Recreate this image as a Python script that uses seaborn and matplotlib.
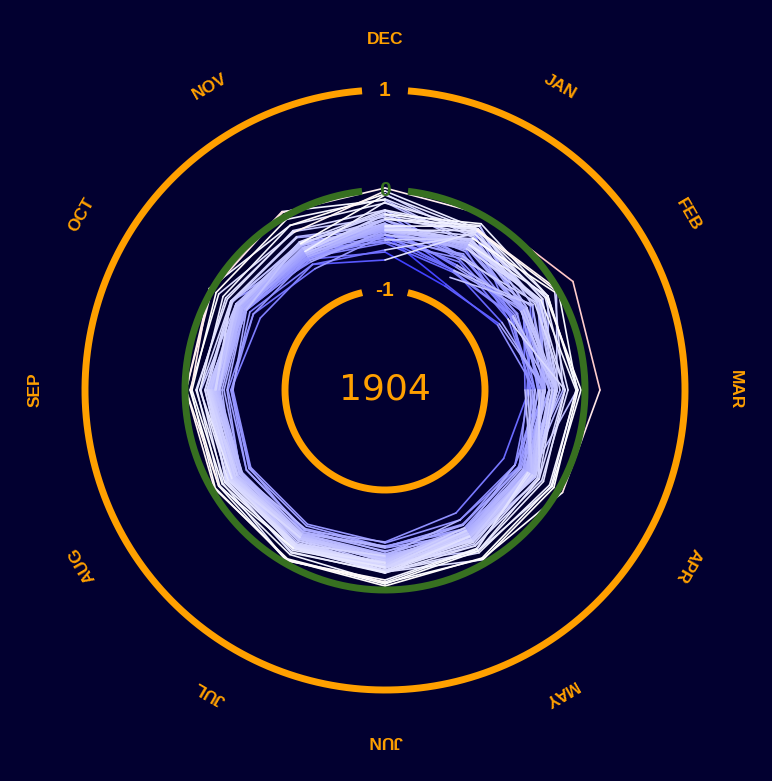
import numpy as np
import pandas as pd
import matplotlib
matplotlib.use('Agg')
import matplotlib.pyplot as plt
import seaborn as sns

# monthly temperature anomalies (deg C), one list per month, years 1850..1904
years = list(range(1850, 1905))
jan = [-0.70, -0.22, -0.20, -0.16, -0.30, -0.28, -0.26, -0.15, -0.62, -0.28,
       -0.43, -0.62, -0.78, -0.17, -0.58, -0.20, -0.15, -0.45, -0.56, -0.32,
       -0.34, -0.52, -0.56, -0.30, -0.11, -0.38, -0.36, -0.48, 0.02, -0.20,
       -0.27, -0.35, -0.08, -0.36, -0.33, -0.62, -0.46, -0.63, -0.46, -0.15,
       -0.40, -0.45, -0.32, -0.80, -0.37, -0.50, -0.14, -0.14, -0.18, -0.10,
       -0.30, -0.24, -0.16, -0.25, -0.64]
feb = [-0.29, -0.38, -0.24, -0.36, -0.24, -0.43, -0.38, -0.36, -0.65, -0.22,
       -0.55, -0.30, -0.70, -0.24, -0.42, -0.55, -0.18, -0.32, -0.37, -0.12,
       -0.40, -0.58, -0.37, -0.42, -0.30, -0.58, -0.42, -0.25, 0.17, -0.15,
       -0.22, -0.27, -0.12, -0.40, -0.22, -0.39, -0.50, -0.52, -0.47, 0.00,
       -0.48, -0.52, -0.21, -0.68, -0.20, -0.53, -0.18, -0.12, -0.40, -0.42,
       -0.20, -0.14, -0.02, -0.04, -0.53]
mar = [-0.58, -0.40, -0.40, -0.28, -0.28, -0.29, -0.47, -0.56, -0.40, -0.20,
       -0.54, -0.40, -0.50, -0.32, -0.45, -0.50, -0.44, -0.57, -0.30, -0.36,
       -0.40, -0.20, -0.33, -0.32, -0.36, -0.52, -0.47, -0.30, 0.15, -0.17,
       -0.25, -0.20, -0.08, -0.28, -0.42, -0.36, -0.42, -0.40, -0.50, -0.08,
       -0.42, -0.28, -0.40, -0.40, -0.30, -0.35, -0.28, -0.07, -0.60, -0.46,
       -0.09, -0.04, -0.28, -0.22, -0.55]
apr = [-0.45, -0.50, -0.33, -0.26, -0.36, -0.27, -0.37, -0.63, -0.31, -0.33,
       -0.35, -0.46, -0.45, -0.35, -0.50, -0.36, -0.31, -0.30, -0.34, -0.29,
       -0.30, -0.22, -0.24, -0.33, -0.39, -0.40, -0.40, -0.22, 0.05, -0.19,
       -0.33, -0.17, -0.32, -0.28, -0.44, -0.43, -0.28, -0.38, -0.35, -0.10,
       -0.35, -0.30, -0.35, -0.41, -0.40, -0.28, -0.35, -0.05, -0.31, -0.22,
       -0.08, -0.07, -0.27, -0.38, -0.50]
may = [-0.41, -0.38, -0.17, -0.31, -0.26, -0.31, -0.40, -0.58, -0.37, -0.34,
       -0.33, -0.50, -0.44, -0.37, -0.44, -0.36, -0.37, -0.34, -0.27, -0.31,
       -0.27, -0.28, -0.20, -0.32, -0.40, -0.37, -0.36, -0.14, -0.05, -0.20,
       -0.30, -0.14, -0.28, -0.24, -0.45, -0.38, -0.26, -0.34, -0.31, -0.12,
       -0.30, -0.22, -0.32, -0.35, -0.34, -0.30, -0.16, -0.04, -0.31, -0.25,
       -0.06, -0.14, -0.33, -0.40, -0.50]
jun = [-0.25, -0.22, -0.10, -0.17, -0.20, -0.19, -0.30, -0.48, -0.28, -0.25,
       -0.32, -0.34, -0.43, -0.36, -0.38, -0.30, -0.23, -0.25, -0.22, -0.30,
       -0.22, -0.24, -0.17, -0.23, -0.35, -0.32, -0.33, -0.06, -0.07, -0.22,
       -0.35, -0.28, -0.33, -0.18, -0.43, -0.44, -0.34, -0.29, -0.27, -0.18,
       -0.31, -0.23, -0.39, -0.27, -0.42, -0.23, -0.08, -0.18, -0.24, -0.27,
       -0.04, -0.19, -0.32, -0.43, -0.47]
jul = [-0.20, -0.17, -0.03, -0.13, -0.19, -0.21, -0.32, -0.38, -0.30, -0.24,
       -0.30, -0.33, -0.43, -0.34, -0.39, -0.26, -0.26, -0.28, -0.21, -0.29,
       -0.20, -0.22, -0.19, -0.21, -0.33, -0.31, -0.28, -0.05, -0.10, -0.20,
       -0.30, -0.20, -0.30, -0.17, -0.40, -0.34, -0.22, -0.29, -0.22, -0.19,
       -0.32, -0.21, -0.36, -0.18, -0.36, -0.15, -0.03, -0.12, -0.22, -0.17,
       -0.04, -0.18, -0.28, -0.36, -0.45]
aug = [-0.22, -0.12, -0.13, -0.16, -0.22, -0.20, -0.25, -0.40, -0.29, -0.27,
       -0.26, -0.27, -0.43, -0.33, -0.40, -0.27, -0.30, -0.27, -0.26, -0.24,
       -0.25, -0.26, -0.17, -0.20, -0.32, -0.34, -0.27, -0.03, -0.09, -0.17,
       -0.22, -0.22, -0.20, -0.24, -0.33, -0.30, -0.29, -0.32, -0.19, -0.21,
       -0.35, -0.23, -0.35, -0.21, -0.34, -0.15, -0.08, -0.18, -0.23, -0.08,
       -0.04, -0.23, -0.32, -0.44, -0.45]
sep = [-0.27, -0.07, -0.16, -0.24, -0.24, -0.24, -0.35, -0.43, -0.34, -0.30,
       -0.37, -0.34, -0.47, -0.42, -0.46, -0.24, -0.32, -0.24, -0.26, -0.22,
       -0.27, -0.32, -0.20, -0.26, -0.34, -0.39, -0.32, -0.01, -0.12, -0.22,
       -0.27, -0.25, -0.22, -0.28, -0.33, -0.27, -0.24, -0.30, -0.15, -0.26,
       -0.34, -0.15, -0.31, -0.30, -0.32, -0.11, -0.05, -0.20, -0.23, -0.01,
       -0.06, -0.29, -0.30, -0.46, -0.48]
oct = [-0.36, -0.05, -0.28, -0.30, -0.30, -0.28, -0.35, -0.48, -0.32, -0.29,
       -0.36, -0.36, -0.44, -0.38, -0.56, -0.30, -0.35, -0.32, -0.32, -0.32,
       -0.34, -0.40, -0.24, -0.31, -0.40, -0.38, -0.36, 0.00, -0.16, -0.23,
       -0.39, -0.34, -0.32, -0.34, -0.40, -0.31, -0.32, -0.38, -0.13, -0.28,
       -0.28, -0.22, -0.22, -0.22, -0.32, -0.18, -0.08, -0.22, -0.36, 0.02,
       0.03, -0.31, -0.36, -0.48, -0.40]
nov = [-0.43, -0.03, -0.31, -0.37, -0.44, -0.46, -0.40, -0.60, -0.52, -0.41,
       -0.46, -0.46, -0.55, -0.36, -0.55, -0.30, -0.36, -0.38, -0.37, -0.33,
       -0.36, -0.46, -0.30, -0.33, -0.50, -0.48, -0.39, 0.05, -0.17, -0.24,
       -0.41, -0.40, -0.33, -0.42, -0.50, -0.29, -0.36, -0.35, -0.10, -0.37,
       -0.44, -0.40, -0.49, -0.23, -0.32, -0.16, -0.18, -0.32, -0.38, 0.06,
       -0.10, -0.32, -0.44, -0.47, -0.29]
dec = [-0.37, -0.09, -0.05, -0.41, -0.34, -0.38, -0.25, -0.45, -0.40, -0.48,
       -0.50, -0.45, -0.70, -0.35, -0.60, -0.29, -0.30, -0.39, -0.38, -0.34,
       -0.48, -0.38, -0.45, -0.36, -0.42, -0.45, -0.52, 0.02, -0.27, -0.40,
       -0.36, -0.24, -0.41, -0.30, -0.44, -0.20, -0.33, -0.44, -0.13, -0.30,
       -0.38, -0.12, -0.62, -0.35, -0.23, -0.20, -0.01, -0.21, -0.29, -0.10,
       -0.04, -0.40, -0.50, -0.53, -0.40]

month_labels = ['JAN', 'FEB', 'MAR', 'APR', 'MAY', 'JUN',
                'JUL', 'AUG', 'SEP', 'OCT', 'NOV', 'DEC']
ring_values = [-1, 0, 1]
current_year = 1904

bg = '#020030'
orange = '#ffa000'
green = '#377020'

months = [jan, feb, mar, apr, may, jun, jul, aug, sep, oct, nov, dec]
for m in months:
    assert len(m) == len(years)
vals = np.array(months).T  # (year, month)

# one row per point of every segment, so each segment gets its own colour
rows = []
seg = 0
prev = None
for yi, yr in enumerate(years):
    for mi in range(12):
        th1 = 2 * np.pi * (mi + 1) / 12
        v1 = vals[yi, mi]
        if prev is not None:
            th0, v0 = prev
            rows.append((seg, th0, v0 + 2, v1))
            rows.append((seg, th1, v1 + 2, v1))
            seg += 1
        prev = (th1 - 2 * np.pi if mi == 11 else th1, v1)
df = pd.DataFrame(rows, columns=['seg', 'theta', 'r', 'val'])

sns.set_style('dark')
fig = plt.figure(figsize=(7.72, 7.81), dpi=100, facecolor=bg)
ax = fig.add_axes([35 / 772, 41 / 781, 700 / 772, 700 / 781], projection='polar')
ax.set_theta_zero_location('N')
ax.set_theta_direction(-1)
ax.set_facecolor(bg)

sns.lineplot(data=df, x='theta', y='r', hue='val', units='seg', estimator=None,
             sort=False, palette='bwr', hue_norm=(-1.05, 0.95), legend=False,
             linewidth=1.2, ax=ax)

# reference rings with a gap at the top for the label
for v in ring_values:
    rr = v + 2
    gap = 0.23 / rr
    th = np.linspace(gap, 2 * np.pi - gap, 500)
    col = green if v == 0 else orange
    ax.plot(th, [rr] * len(th), color=col, lw=5, zorder=5, solid_capstyle='butt')
    ax.text(0, rr, str(v), color=col, ha='center', va='center', fontsize=15,
            fontweight='bold', family='Liberation Sans', zorder=6)

for i, lab in enumerate(month_labels):
    th = 2 * np.pi * (i + 1) / 12
    rot = -np.degrees(th)
    ax.text(th, 3.5, lab, color=orange, ha='center', va='center', fontsize=12.5,
            fontweight='bold', family='Liberation Sans', rotation=rot,
            rotation_mode='anchor')

ax.text(0, 0, str(current_year), color=orange, ha='center', va='center',
        fontsize=26, family='DejaVu Sans', zorder=6)

ax.set_ylim(0, 3.5)
ax.axis('off')

fig.savefig('out.png', dpi=100, facecolor=bg)
